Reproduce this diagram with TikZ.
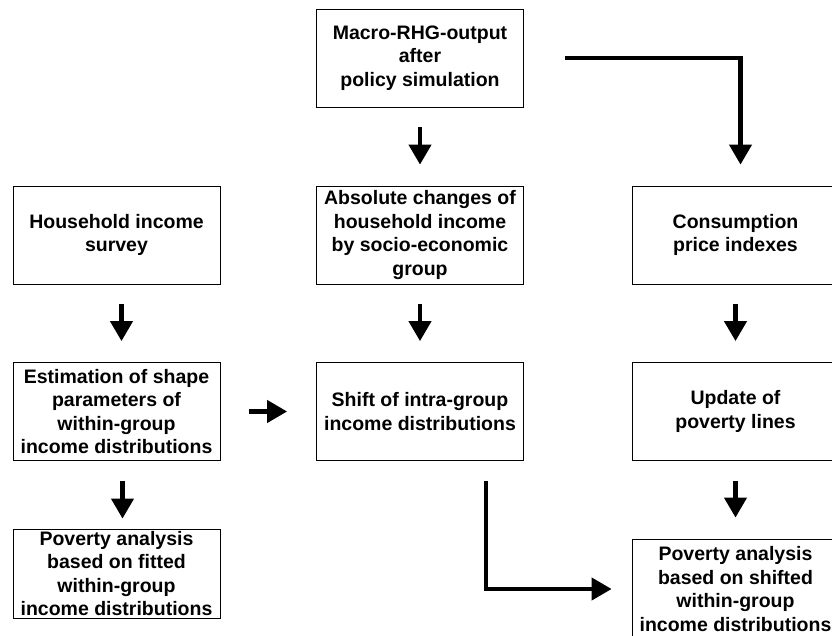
\documentclass[tikz,border=0pt]{standalone}
\usepackage{fontspec}
\setmainfont{Liberation Sans}
\usetikzlibrary{arrows.meta}

\tikzset{
  box/.style={draw, line width=0.8pt, minimum width=207pt, minimum height=98pt,
    inner sep=0pt, align=center, font=\fontsize{19.5}{23.4}\selectfont\bfseries},
  flow/.style={-{Triangle[width=22pt,length=20pt]}, line width=4.2pt,
    shorten <=20pt, shorten >=21pt},
}

\begin{document}
\begin{tikzpicture}[x=1pt,y=-1pt]

\useasboundingbox (0,0) rectangle (832,636);
\clip (0,0) rectangle (832,636);

% top
\node[box] (macro) at (420,58) {Macro-RHG-output\\after\\policy simulation};

% first row
\node[box] (survey) at (116.5,235) {Household income\\survey};
\node[box] (absolute) at (420,235) {Absolute changes of\\household income\\by socio-economic\\group};
\node[box] (cpi) at (735.5,235) {Consumption\\price indexes};

% second row
\node[box] (estimation) at (116.5,411.5) {Estimation of shape\\parameters of\\within-group\\income distributions};
\node[box] (shift) at (420,411.5) {Shift of intra-group\\income distributions};
\node[box] (update) at (735.5,411.5) {Update of\\poverty lines};

% bottom
\node[box, minimum height=89pt] (fitted) at (116.5,573.5) {Poverty analysis\\based on fitted\\within-group\\income distributions};
\node[box, minimum height=100pt] (shifted) at (735.5,589) {Poverty analysis\\based on shifted\\within-group\\income distributions};

\draw[flow] (macro) -- (absolute);
\draw[flow] ([xshift=5pt]survey.south) -- ([xshift=5pt]estimation.north);
\draw[flow] (absolute) -- (shift);
\draw[flow] (cpi) -- (update);
\draw[flow, shorten >=10pt] ([xshift=6pt]estimation.south) -- ([xshift=6pt]fitted.north);
\draw[flow] (update) -- (shifted);
\draw[flow, shorten <=29pt, shorten >=29pt] (estimation) -- (shift);

\draw[flow, shorten <=41pt] (macro.east |- 0,58) -| ([xshift=5pt]cpi.north);
\draw[flow, shorten >=20pt] ([xshift=66pt]shift.south) |- (shifted.west);

\end{tikzpicture}
\end{document}
